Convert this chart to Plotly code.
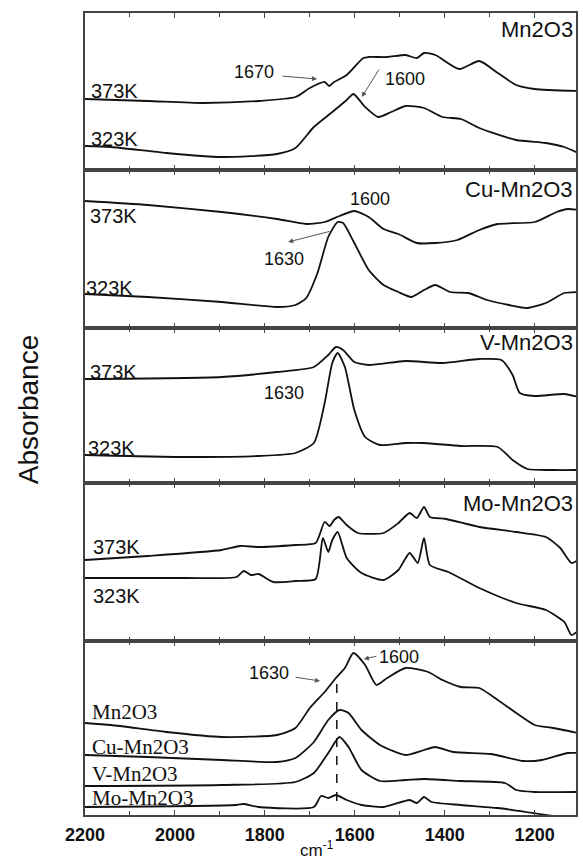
import plotly.graph_objects as go

# ---------------- data (wavenumber cm-1, absorbance a.u.) ----------------
wn_mn_373 = [2200, 2060, 1937, 1814, 1732, 1700, 1667, 1657, 1646, 1618, 1581, 1569, 1528, 1487, 1462, 1446, 1421, 1368, 1323, 1282, 1241, 1200, 1103]
ab_mn_373 = [0.71, 0.69, 0.67, 0.69, 0.73, 0.82, 0.88, 0.84, 0.88, 0.95, 1.12, 1.13, 1.13, 1.15, 1.12, 1.17, 1.15, 1.01, 1.09, 0.97, 0.85, 0.81, 0.79]
wn_mn_323 = [2200, 2142, 2019, 1896, 1773, 1732, 1691, 1650, 1618, 1603, 1577, 1548, 1519, 1487, 1446, 1405, 1364, 1323, 1241, 1175, 1134, 1103]
ab_mn_323 = [0.24, 0.23, 0.17, 0.13, 0.16, 0.22, 0.43, 0.58, 0.70, 0.76, 0.63, 0.53, 0.58, 0.64, 0.62, 0.53, 0.51, 0.42, 0.30, 0.27, 0.23, 0.17]

wn_cu_373 = [2200, 2060, 1896, 1773, 1708, 1667, 1634, 1601, 1569, 1536, 1503, 1462, 1421, 1372, 1323, 1282, 1200, 1151, 1126, 1103]
ab_cu_373 = [1.27, 1.23, 1.16, 1.09, 1.04, 1.06, 1.12, 1.17, 1.11, 0.99, 0.94, 0.85, 0.85, 0.88, 0.98, 1.04, 1.06, 1.16, 1.19, 1.18]
wn_cu_323 = [2200, 2060, 1896, 1773, 1732, 1708, 1683, 1659, 1638, 1626, 1601, 1569, 1536, 1503, 1474, 1446, 1421, 1388, 1347, 1306, 1257, 1216, 1175, 1134, 1103]
ab_cu_323 = [0.34, 0.31, 0.26, 0.21, 0.23, 0.30, 0.55, 0.91, 1.06, 1.05, 0.85, 0.58, 0.43, 0.36, 0.31, 0.38, 0.43, 0.36, 0.35, 0.28, 0.23, 0.20, 0.25, 0.35, 0.36]

wn_v_373 = [2200, 1896, 1773, 1691, 1659, 1642, 1626, 1601, 1569, 1487, 1405, 1323, 1274, 1249, 1233, 1200, 1134, 1103]
ab_v_373 = [1.04, 1.06, 1.11, 1.16, 1.28, 1.36, 1.33, 1.21, 1.18, 1.22, 1.20, 1.24, 1.23, 1.08, 0.90, 0.87, 0.89, 0.86]
wn_v_323 = [2200, 1978, 1814, 1732, 1691, 1667, 1650, 1638, 1622, 1601, 1577, 1544, 1487, 1446, 1364, 1282, 1249, 1216, 1159, 1103]
ab_v_323 = [0.28, 0.26, 0.27, 0.30, 0.40, 0.80, 1.20, 1.30, 1.16, 0.73, 0.46, 0.38, 0.40, 0.40, 0.37, 0.36, 0.23, 0.14, 0.13, 0.13]

wn_mo_373 = [2200, 2060, 1896, 1855, 1814, 1732, 1687, 1667, 1656, 1646, 1636, 1618, 1593, 1536, 1503, 1478, 1462, 1446, 1433, 1397, 1323, 1241, 1175, 1143, 1118, 1103]
ab_mo_373 = [0.81, 0.85, 0.91, 0.95, 0.94, 0.96, 0.98, 1.19, 1.15, 1.21, 1.24, 1.16, 1.08, 1.08, 1.18, 1.28, 1.23, 1.34, 1.24, 1.22, 1.14, 1.09, 1.04, 0.93, 0.78, 0.81]
wn_mo_323 = [2200, 1978, 1863, 1847, 1831, 1814, 1781, 1732, 1687, 1671, 1659, 1650, 1638, 1618, 1585, 1536, 1503, 1478, 1460, 1446, 1433, 1392, 1323, 1241, 1175, 1134, 1118, 1103]
ab_mo_323 = [0.63, 0.63, 0.64, 0.70, 0.66, 0.67, 0.59, 0.60, 0.62, 1.03, 0.89, 1.01, 1.09, 0.83, 0.68, 0.61, 0.71, 0.88, 0.78, 1.03, 0.76, 0.69, 0.53, 0.38, 0.31, 0.19, 0.06, 0.10]

wn_cmp_mn = [2200, 2142, 2019, 1896, 1773, 1732, 1700, 1667, 1642, 1622, 1603, 1577, 1552, 1528, 1487, 1437, 1405, 1364, 1323, 1282, 1241, 1200, 1159, 1103]
ab_cmp_mn = [0.92, 0.90, 0.83, 0.78, 0.80, 0.87, 1.07, 1.23, 1.37, 1.47, 1.62, 1.50, 1.30, 1.37, 1.47, 1.43, 1.35, 1.28, 1.27, 1.15, 1.02, 0.90, 0.87, 0.82]
wn_cmp_cu = [2200, 2060, 1896, 1773, 1732, 1691, 1659, 1634, 1614, 1585, 1544, 1487, 1446, 1421, 1380, 1298, 1225, 1184, 1126, 1103]
ab_cmp_cu = [0.60, 0.58, 0.55, 0.53, 0.57, 0.73, 0.95, 1.05, 1.02, 0.85, 0.70, 0.60, 0.65, 0.68, 0.63, 0.61, 0.54, 0.55, 0.62, 0.62]
wn_cmp_v = [2200, 1896, 1732, 1691, 1659, 1634, 1614, 1585, 1544, 1487, 1446, 1364, 1266, 1241, 1200, 1103]
ab_cmp_v = [0.29, 0.30, 0.33, 0.42, 0.62, 0.78, 0.68, 0.45, 0.34, 0.35, 0.36, 0.34, 0.32, 0.25, 0.23, 0.23]
wn_cmp_mo = [2200, 1863, 1847, 1814, 1691, 1675, 1659, 1642, 1618, 1585, 1536, 1478, 1462, 1446, 1429, 1364, 1282, 1159, 1103]
ab_cmp_mo = [0.08, 0.10, 0.11, 0.08, 0.08, 0.19, 0.17, 0.20, 0.15, 0.10, 0.08, 0.15, 0.12, 0.18, 0.13, 0.10, 0.07, -0.01, -0.05]

panel_names = ["Mn2O3", "Cu-Mn2O3", "V-Mn2O3", "Mo-Mn2O3"]
temp_labels = ["373K", "323K"]
x_ticks = [2200, 2000, 1800, 1600, 1400, 1200]
x_range = [2200, 1108]
marker_wn = 1640
# ---------------------------------------------------------------------------

W, H = 583, 861
L, R, T, B = 85, 578, 13, 815
panel_px = [(13, 170), (170, 328), (328, 483), (483, 641), (641, 815)]


def py(y):
    return (B - y) / (B - T)


def px(x):
    return (x - L) / (R - L)


SANS = "Liberation Sans, Arial, sans-serif"
SERIF = "Liberation Serif, Times New Roman, serif"
INK = "#111111"
FRAME = "#444444"

series = [
    (0, wn_mn_373, ab_mn_373), (0, wn_mn_323, ab_mn_323),
    (1, wn_cu_373, ab_cu_373), (1, wn_cu_323, ab_cu_323),
    (2, wn_v_373, ab_v_373), (2, wn_v_323, ab_v_323),
    (3, wn_mo_373, ab_mo_373), (3, wn_mo_323, ab_mo_323),
    (4, wn_cmp_mn, ab_cmp_mn), (4, wn_cmp_cu, ab_cmp_cu),
    (4, wn_cmp_v, ab_cmp_v), (4, wn_cmp_mo, ab_cmp_mo),
]

fig = go.Figure()


def sfx(k):
    return "" if k == 0 else str(k + 1)


for p, xs, ys in series:
    fig.add_trace(go.Scatter(
        x=xs, y=ys, mode="lines",
        line=dict(color=INK, width=1.8, shape="spline", smoothing=0.6),
        xaxis="x" + sfx(p), yaxis="y" + sfx(p),
        showlegend=False, hoverinfo="skip"))

layout = dict(
    width=W, height=H,
    margin=dict(l=L, r=W - R, t=T, b=H - B, pad=0),
    paper_bgcolor="white", plot_bgcolor="white",
    font=dict(family=SANS, color=INK),
    showlegend=False,
)

for k, (top, bot) in enumerate(panel_px):
    s = sfx(k)
    xa = dict(
        domain=[0, 1], range=x_range, anchor="y" + s,
        showline=True, mirror="ticks", linecolor=FRAME, linewidth=1.5,
        ticks="inside", ticklen=5, tickwidth=1, tickcolor=FRAME,
        tickvals=x_ticks, ticktext=[str(v) for v in x_ticks],
        showticklabels=(k == 4),
        tickfont=dict(family=SANS, size=18, color=INK, weight="bold"),
        ticklabelstandoff=3,
        minor=dict(ticks="inside", ticklen=4, dtick=100, tick0=2200, tickcolor=FRAME, tickwidth=1, showgrid=False),
        showgrid=False, zeroline=False,
    )
    if k > 0:
        xa["matches"] = "x"
    layout["xaxis" + s] = xa
    layout["yaxis" + s] = dict(
        domain=[py(bot), py(top)], range=[0, (bot - top) / 100.0], anchor="x" + s,
        showline=True, mirror=True, linecolor=FRAME, linewidth=1.5,
        ticks="", showticklabels=False, showgrid=False, zeroline=False,
    )

fig.update_layout(**layout)

ann = []


def text(t, x, y, anchor="left", size=20, family=SANS, angle=0):
    ann.append(dict(text=t, x=px(x), y=py(y), xref="paper", yref="paper",
                    xanchor=anchor, yanchor="middle", showarrow=False, textangle=angle,
                    font=dict(family=family, size=size, color=INK)))


def arrow(x0, y0, x1, y1, color="#555555"):
    ann.append(dict(text="", x=px(x1), y=py(y1), xref="paper", yref="paper",
                    ax=x0 - x1, ay=y0 - y1, axref="pixel", ayref="pixel",
                    showarrow=True, arrowhead=2, arrowsize=1, arrowwidth=1,
                    arrowcolor=color, standoff=0))


# panel titles
for k, name in enumerate(panel_names):
    ycen = [30, 190, 342, 503][k]
    text(name, 577, ycen, anchor="right", size=22)

# temperature labels
temp_pos = [(89, 91, 89, 139), (88, 216, 84, 288), (88, 372, 86, 448), (91, 547, 91, 596)]
for (x1, y1, x2, y2) in temp_pos:
    text(temp_labels[0], x1, y1, size=20)
    text(temp_labels[1], x2, y2, size=20)

# peak annotations
text("1670", 255, 72, anchor="center", size=18)
arrow(282, 76, 318, 79)
text("1600", 406, 79, anchor="center", size=18)
arrow(381, 68, 363, 97)

text("1600", 371, 199, anchor="center", size=18)
text("1630", 285, 259, anchor="center", size=18)
arrow(332, 231, 289, 242)

text("1630", 285, 393, anchor="center", size=18)

text("1630", 270, 673, anchor="center", size=18)
arrow(295, 677, 321, 681)
text("1600", 400, 657, anchor="center", size=18)
arrow(379, 656, 365, 659)

# comparison panel labels (serif)
for lab, yy in zip(panel_names, [712, 747, 774, 798]):
    text(lab, 90, yy, size=21, family=SERIF)

# axis titles
text("cm<sup>-1</sup>", 318, 849, anchor="center", size=17)
text("Absorbance", 28, 410, anchor="center", size=28, angle=-90)

# dashed marker line in comparison panel
shapes = [dict(type="line", xref="x5", yref="y5", x0=marker_wn, x1=marker_wn,
               y0=0.14, y1=1.32, line=dict(color=INK, width=1.5, dash="dash"))]

fig.update_layout(annotations=ann, shapes=shapes)
fig.write_html("out.html")
